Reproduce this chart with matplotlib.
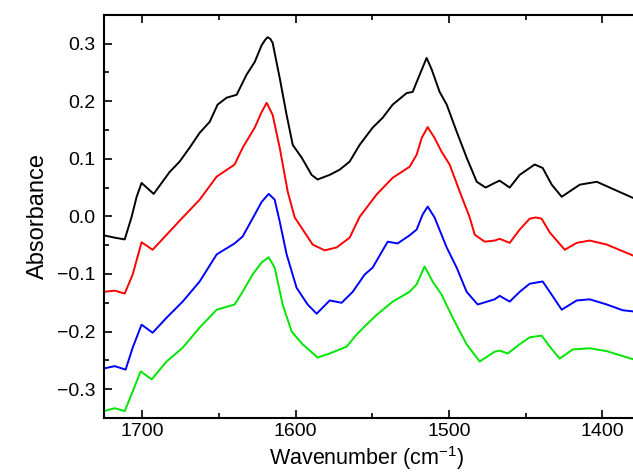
import matplotlib
matplotlib.use('Agg')
import matplotlib.pyplot as plt
from matplotlib.ticker import MultipleLocator, FuncFormatter

plt.rcParams['font.family'] = ['Liberation Sans', 'DejaVu Sans']
plt.rcParams['mathtext.fontset'] = 'custom'
plt.rcParams['mathtext.rm'] = 'Liberation Sans'

# spectra (wavenumber in cm-1, absorbance)
wn_black = [1725, 1718, 1711.5, 1707, 1703.7, 1700.5, 1692.6, 1682.2, 1675.7, 1669.2,
            1662.6, 1656.1, 1650.9, 1645, 1638.5, 1632, 1626.7, 1622.2, 1620, 1618.3, 1616.5, 1615,
            1610.4, 1605.9, 1601.9, 1596.1, 1589.6, 1585.7, 1577.8, 1571.3, 1564.8, 1558.3,
            1549.8, 1543.3, 1536.7, 1527.6, 1523.7, 1519.1, 1514.6, 1511.3, 1506.1, 1501.5,
            1495, 1488.5, 1481.9, 1476.1, 1470.2, 1467, 1460.4, 1453.9, 1444.1, 1438.9,
            1433, 1426.5, 1414.7, 1403.6, 1395.2, 1380]
ab_black = [-0.033, -0.037, -0.040, -0.001, 0.034, 0.058, 0.039, 0.077, 0.095, 0.119,
            0.145, 0.164, 0.194, 0.206, 0.211, 0.246, 0.268, 0.297, 0.306, 0.311, 0.308, 0.301,
            0.240, 0.176, 0.124, 0.102, 0.072, 0.064, 0.072, 0.081, 0.095, 0.124,
            0.154, 0.171, 0.194, 0.214, 0.216, 0.246, 0.275, 0.255, 0.216, 0.194,
            0.147, 0.102, 0.060, 0.050, 0.058, 0.062, 0.050, 0.072, 0.090, 0.084,
            0.055, 0.034, 0.055, 0.060, 0.050, 0.032]

wn_red = [1725, 1718, 1711.5, 1706.3, 1700.5, 1693.3, 1684.2, 1674.4, 1662.6, 1651.5,
          1639.8, 1634.6, 1626.7, 1622.2, 1618.9, 1615, 1610.4, 1605.2, 1600.6, 1596.1,
          1588.9, 1581.1, 1573.3, 1564.8, 1558.3, 1547.2, 1536.7, 1525.7, 1521.1, 1517.8,
          1513.9, 1509.4, 1504.8, 1499.6, 1493, 1486.5, 1483.2, 1476.7, 1470.2, 1467,
          1460.4, 1453.9, 1447.4, 1443.5, 1439.6, 1434.3, 1424.5, 1416.7, 1408.2, 1397.1, 1380]
ab_red = [-0.131, -0.129, -0.134, -0.101, -0.045, -0.058, -0.032, -0.004, 0.029, 0.069,
          0.090, 0.119, 0.154, 0.181, 0.197, 0.176, 0.119, 0.043, -0.002, -0.020,
          -0.049, -0.059, -0.054, -0.037, -0.001, 0.038, 0.067, 0.086, 0.107, 0.136,
          0.155, 0.136, 0.112, 0.090, 0.043, -0.002, -0.032, -0.044, -0.042, -0.039,
          -0.046, -0.023, -0.004, -0.002, -0.004, -0.028, -0.058, -0.046, -0.042, -0.049, -0.068]

wn_blue = [1725, 1718, 1710.9, 1706.3, 1700.5, 1693.3, 1684.2, 1673.7, 1662.6, 1651.5,
           1639.8, 1634.6, 1626.7, 1622.2, 1617.6, 1613.7, 1610.4, 1605.9, 1599.4, 1592.2,
           1586.3, 1577.8, 1570, 1562.8, 1555, 1549.8, 1540, 1533.5, 1525.7, 1521.1,
           1517.2, 1513.9, 1509.4, 1501.5, 1495, 1488.5, 1481.3, 1470.2, 1467, 1460.4,
           1453.9, 1447.4, 1438.9, 1434.3, 1426.5, 1416.7, 1408.2, 1397.1, 1386.7, 1380]
ab_blue = [-0.264, -0.260, -0.266, -0.228, -0.188, -0.202, -0.176, -0.148, -0.113, -0.066,
           -0.047, -0.035, 0.003, 0.025, 0.039, 0.029, -0.009, -0.066, -0.124, -0.153,
           -0.169, -0.146, -0.150, -0.131, -0.101, -0.089, -0.044, -0.047, -0.033, -0.023,
           0.003, 0.017, -0.002, -0.054, -0.089, -0.131, -0.153, -0.144, -0.138, -0.148,
           -0.131, -0.117, -0.113, -0.131, -0.162, -0.146, -0.144, -0.153, -0.163, -0.165]

wn_green = [1725, 1718, 1711.5, 1706.3, 1701.1, 1693.9, 1684.2, 1673.7, 1662.6, 1651.5,
            1639.8, 1634.6, 1628.1, 1622.2, 1617.6, 1613.7, 1608.5, 1602.6, 1595.5, 1585.7,
            1577.8, 1566.7, 1560.2, 1555, 1547.2, 1536.7, 1525.7, 1521.1, 1515.9, 1510.7,
            1504.8, 1497.6, 1488.5, 1480, 1470.2, 1467, 1461.7, 1453.9, 1447.4, 1439.6,
            1434.3, 1427.8, 1419.3, 1408.2, 1397.1, 1380]
ab_green = [-0.338, -0.333, -0.338, -0.304, -0.269, -0.283, -0.252, -0.228, -0.193, -0.162,
            -0.153, -0.131, -0.101, -0.080, -0.071, -0.089, -0.153, -0.200, -0.222, -0.245,
            -0.238, -0.226, -0.205, -0.191, -0.171, -0.148, -0.131, -0.118, -0.087, -0.113,
            -0.136, -0.176, -0.222, -0.252, -0.235, -0.233, -0.238, -0.222, -0.210, -0.207,
            -0.226, -0.247, -0.231, -0.229, -0.234, -0.248]

fig = plt.figure(figsize=(6.33, 4.73), dpi=100)
ax = fig.add_axes([0.1643, 0.1163, 0.8478, 0.8526])

style = dict(lw=1.4, solid_joinstyle='round', solid_capstyle='round')
ax.plot(wn_black, ab_black, color='black', **style)
ax.plot(wn_red, ab_red, color='#ff0000', **style)
ax.plot(wn_blue, ab_blue, color='#0000ff', **style)
ax.plot(wn_green, ab_green, color='#00e600', **style)

ax.set_xlim(1725, 1375)
ax.set_ylim(-0.35, 0.35)

ax.xaxis.set_major_locator(MultipleLocator(100))
ax.xaxis.set_minor_locator(MultipleLocator(50))
ax.yaxis.set_major_locator(MultipleLocator(0.1))
ax.yaxis.set_minor_locator(MultipleLocator(0.05))
ax.yaxis.set_major_formatter(FuncFormatter(lambda v, p: ('%.1f' % v).replace('-', '\u2212')))

ax.tick_params(which='both', direction='in', top=True, right=True, width=1.2, labelsize=14, pad=6)
ax.tick_params(axis='x', pad=3.5)
ax.tick_params(which='major', length=6)
ax.tick_params(which='minor', length=3.5)
for s in ax.spines.values():
    s.set_linewidth(1.5)

ax.set_xlabel('Wavenumber (cm$^{\\mathregular{-1}}$)', fontsize=15.5, va='bottom')
ax.xaxis.set_label_coords(0.49, -0.133)
ax.set_ylabel('Absorbance', fontsize=17, labelpad=6)

fig.savefig('out.png', dpi=100)
